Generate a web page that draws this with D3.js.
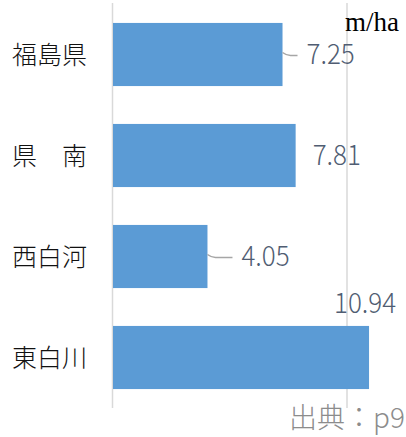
<!DOCTYPE html>
<html>
<head>
<meta charset="utf-8">
<script src="https://cdn.jsdelivr.net/npm/d3@7/dist/d3.min.js"></script>
<style>
  html, body { margin: 0; padding: 0; background: #fff; }
  svg { display: block; }
</style>
</head>
<body>
<svg id="chart" width="406" height="437"></svg>
<script>
// Forest road density by region (m/ha)
const categories = ["福島県", "県　南", "西白河", "東白川"];
const values = [7.25, 7.81, 4.05, 10.94];
const gridTicks = [0, 10];
const unitLabel = "m/ha";
const sourceLabel = "出典：p9";

const svg = d3.select("#chart");
const jpFont = "'Noto Sans CJK JP', 'Noto Sans', sans-serif";

const x = d3.scaleLinear().domain([0, 10]).range([112.5, 347]);
const y = d3.scaleBand().domain(categories).range([4, 408]).paddingInner(0.375).paddingOuter(0.1875);

// vertical gridlines
svg.append("g")
  .selectAll("line")
  .data(gridTicks)
  .join("line")
  .attr("x1", d => x(d)).attr("x2", d => x(d))
  .attr("y1", 3).attr("y2", 408)
  .attr("stroke", "#d9d9d9")
  .attr("stroke-width", 1.5);

// bars
svg.append("g")
  .selectAll("rect")
  .data(values)
  .join("rect")
  .attr("x", x(0) + 0.5)
  .attr("y", (d, i) => y(categories[i]))
  .attr("width", d => x(d) - x(0) - 0.5)
  .attr("height", y.bandwidth())
  .attr("fill", "#5b9bd5");

// category labels
svg.append("g")
  .selectAll("text")
  .data(categories)
  .join("text")
  .attr("x", 12)
  .attr("y", d => y(d) + y.bandwidth() / 2)
  .attr("dy", "0.36em")
  .attr("font-family", jpFont)
  .attr("font-size", 25)
  .attr("font-weight", 300)
  .attr("fill", "#111")
  .text(d => d);

// value labels: offset from bar end, some with leader lines
const labelPlace = [
  { dx: 24, dy: 0, leader: true },
  { dx: 17, dy: 0, leader: false },
  { dx: 34, dy: 0, leader: true },
  { dx: -35, dy: -54, leader: false }
];

const vg = svg.append("g");
values.forEach((v, i) => {
  const cy = y(categories[i]) + y.bandwidth() / 2;
  const p = labelPlace[i];
  if (p.leader) {
    vg.append("path")
      .attr("d", `M${x(v)},${cy - 2} q4,3 8,3 L${x(v) + p.dx - 9},${cy + 1}`)
      .attr("fill", "none")
      .attr("stroke", "#a6a6a6")
      .attr("stroke-width", 1.5);
  }
  vg.append("text")
    .attr("x", x(v) + p.dx)
    .attr("y", cy + p.dy)
    .attr("dy", "0.36em")
    .attr("font-family", jpFont)
    .attr("font-size", 26)
    .attr("font-weight", 300)
    .attr("fill", "#505d72")
    .attr("transform", `translate(0, ${cy + p.dy}) scale(1, 1.06) translate(0, ${-(cy + p.dy)})`)
    .text(v.toFixed(2));
});

// unit label
svg.append("text")
  .attr("x", 399).attr("y", 31)
  .attr("text-anchor", "end")
  .attr("font-family", "'Liberation Serif', 'DejaVu Serif', serif")
  .attr("font-size", 27)
  .attr("fill", "#000")
  .text(unitLabel);

// source note
svg.append("text")
  .attr("x", 405).attr("y", 428)
  .attr("text-anchor", "end")
  .attr("font-family", jpFont)
  .attr("font-size", 28)
  .attr("font-weight", 300)
  .attr("fill", "#8c8c8c")
  .text(sourceLabel);
</script>
</body>
</html>
